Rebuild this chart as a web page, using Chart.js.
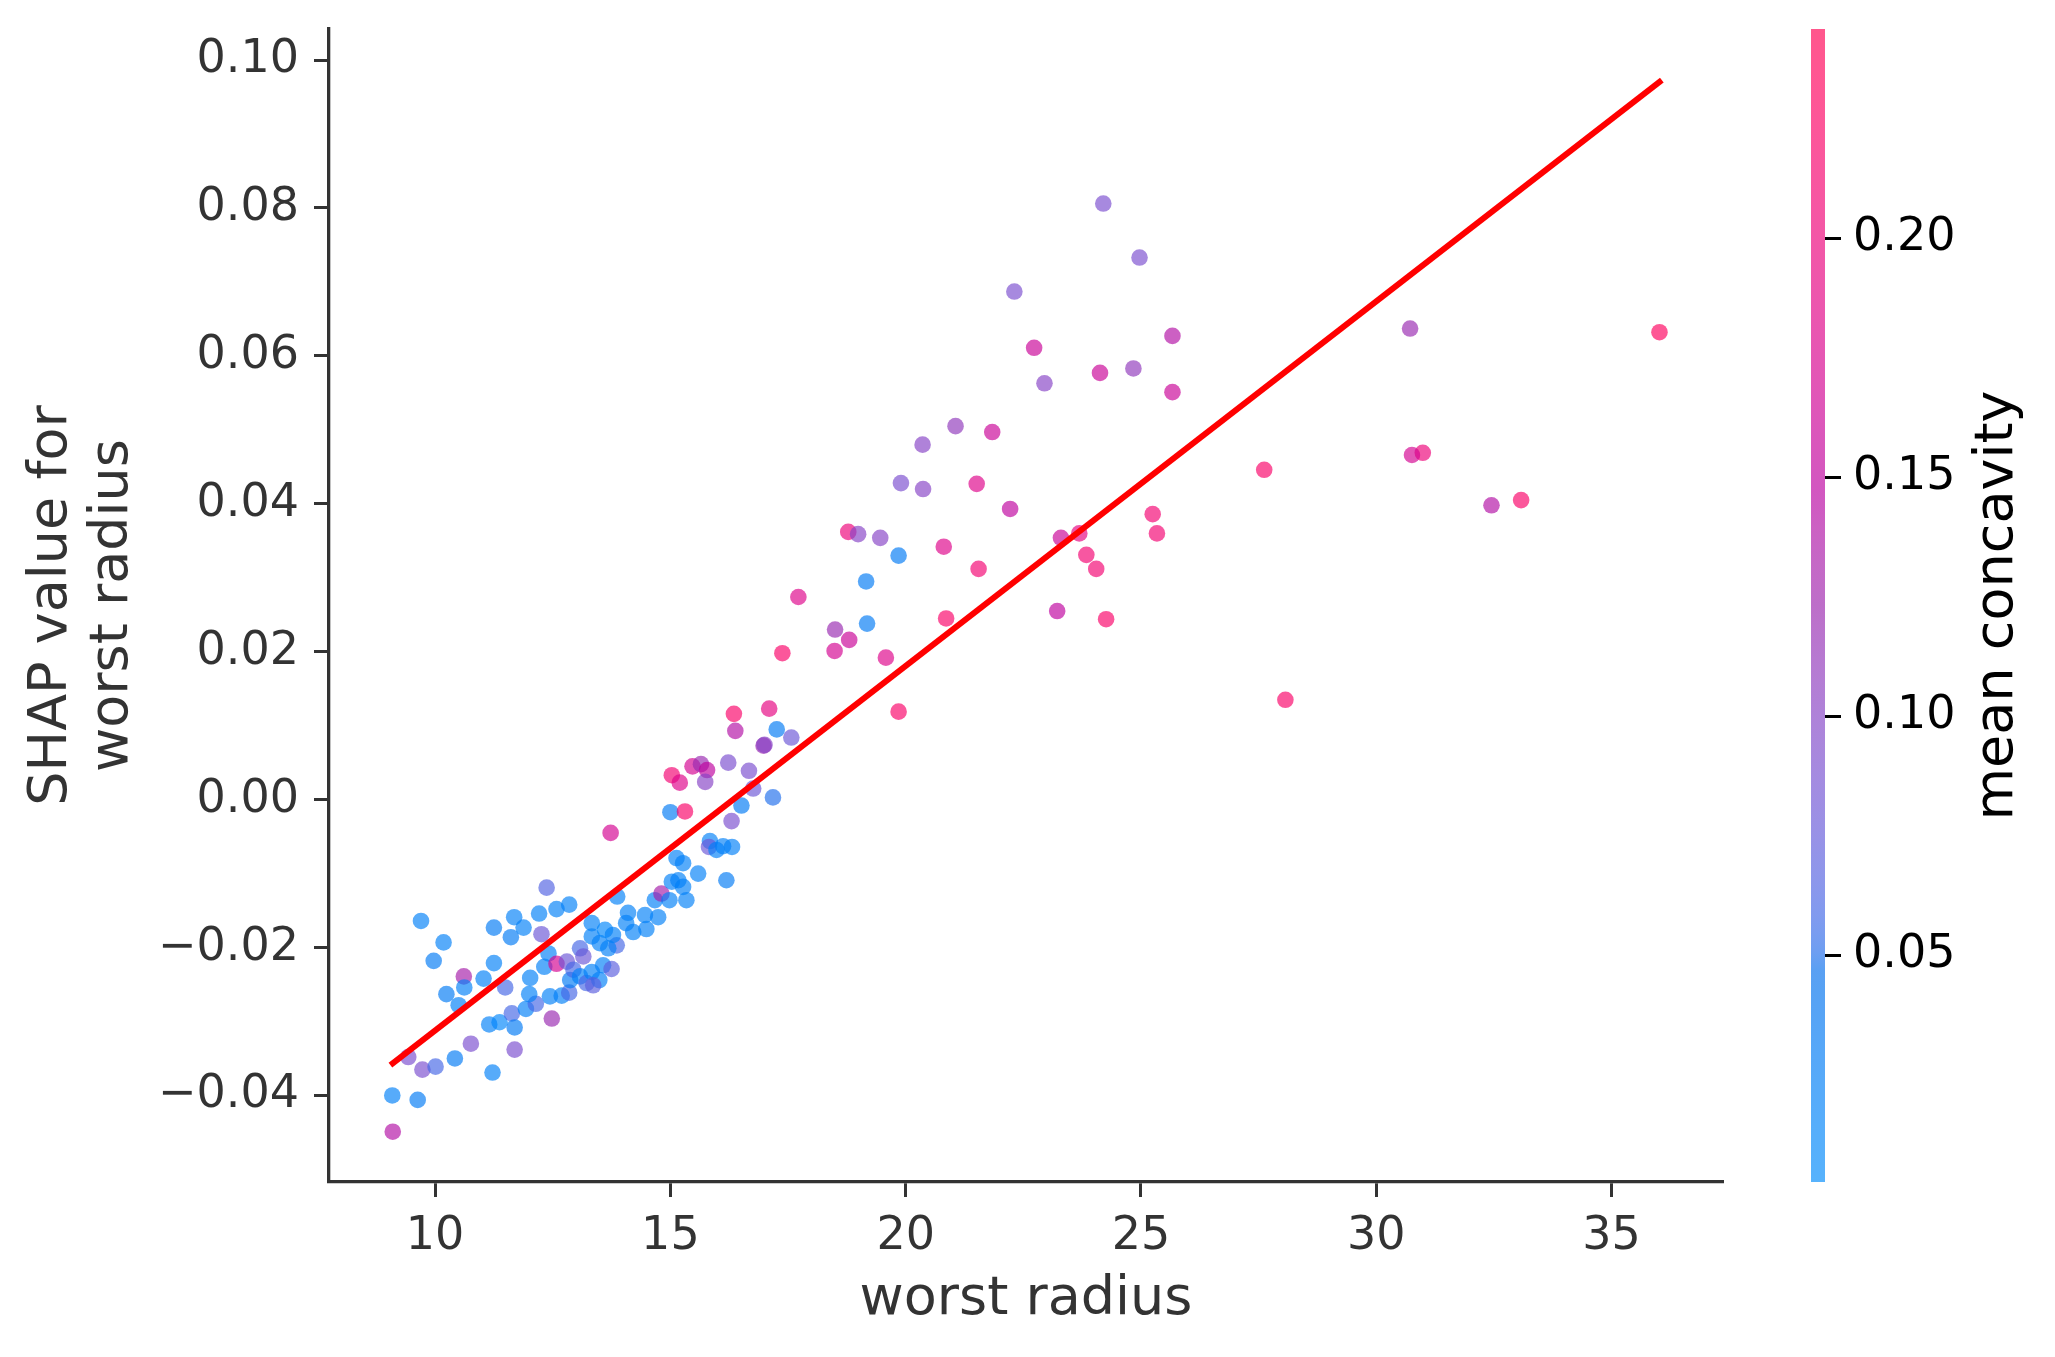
<!DOCTYPE html>
<html><head><meta charset="utf-8">
<script src="https://cdn.jsdelivr.net/npm/chart.js@4/dist/chart.umd.min.js"></script>
<style>
html,body{margin:0;padding:0;background:#fff;}
#wrap{position:relative;width:2055px;height:1357px;background:#fff;}
#wrap canvas{position:absolute;left:0;top:0;}
</style></head><body>
<div id="wrap"><canvas id="main" width="2055" height="1357"></canvas><canvas id="cbar" width="2055" height="1357"></canvas></div>
<script>
// ---- data ----
const WORST_RADIUS = [9.10, 9.09, 9.63, 9.43, 9.73, 10.01, 10.42, 10.76, 11.22, 11.69, 9.70, 10.18, 9.97, 10.24, 10.61, 10.62, 10.50, 11.03, 11.25, 11.25, 11.61, 11.68, 11.88, 12.21, 12.37, 12.58, 12.85, 12.26, 11.49, 11.15, 11.37, 11.63, 11.69, 11.93, 12.14, 12.48, 12.02, 12.00, 12.44, 12.69, 12.85, 12.32, 12.41, 12.58, 12.80, 12.87, 12.94, 13.08, 13.15, 13.08, 13.22, 13.33, 13.49, 13.36, 13.57, 13.75, 13.86, 13.33, 13.33, 13.50, 13.61, 13.68, 13.78, 13.87, 14.06, 14.10, 14.21, 14.46, 14.49, 14.74, 14.67, 14.81, 14.98, 15.03, 15.13, 15.27, 15.27, 15.34, 15.59, 13.73,
 17.38, 18.50, 18.80, 18.49, 19.18, 19.58, 19.85, 20.86, 16.35, 17.10, 16.38, 17.26, 17.57, 16.98, 17.00, 16.23, 16.67, 16.76, 17.18, 16.51, 16.30, 15.47, 15.65, 15.78, 15.74, 15.03, 15.20, 15.00, 15.31, 15.84, 15.82, 15.98, 16.12, 16.31, 16.19, 15.17,
 36.02, 33.08, 32.45, 30.99, 30.76, 30.72, 28.07, 27.62, 24.20, 24.97, 22.31, 25.67, 22.73, 22.95, 24.84, 24.13, 25.67, 21.06, 21.84, 20.36, 19.90, 20.37, 21.51, 22.22, 18.78, 18.99, 19.46, 20.81, 19.16, 19.85, 21.55, 17.72, 25.25, 25.34, 23.69, 23.30, 23.84, 24.05, 23.22, 24.26];
const SHAP_VALUES = [-0.0449, -0.0400, -0.0406, -0.0348, -0.0365, -0.0361, -0.0350, -0.0330, -0.0369, -0.0338, -0.0164, -0.0193, -0.0218, -0.0263, -0.0239, -0.0254, -0.0278, -0.0242, -0.0221, -0.0173, -0.0186, -0.0159, -0.0173, -0.0154, -0.0119, -0.0148, -0.0142, -0.0182, -0.0254, -0.0304, -0.0301, -0.0289, -0.0308, -0.0283, -0.0276, -0.0296, -0.0241, -0.0263, -0.0266, -0.0265, -0.0261, -0.0226, -0.0208, -0.0222, -0.0219, -0.0244, -0.0230, -0.0201, -0.0212, -0.0239, -0.0248, -0.0233, -0.0244, -0.0251, -0.0224, -0.0229, -0.0197, -0.0167, -0.0185, -0.0194, -0.0176, -0.0201, -0.0183, -0.0131, -0.0167, -0.0153, -0.0179, -0.0156, -0.0175, -0.0159, -0.0136, -0.0127, -0.0136, -0.0111, -0.0079, -0.0086, -0.0118, -0.0136, -0.0100, -0.0045,
 0.0198, 0.0230, 0.0216, 0.0201, 0.0238, 0.0192, 0.0119, 0.0245, 0.0116, 0.0123, 0.0093, 0.0095, 0.0084, 0.0073, 0.0074, 0.0050, 0.0039, 0.0015, 0.0003, -0.0008, -0.0029, 0.0045, 0.0048, 0.0040, 0.0024, 0.0033, 0.0023, -0.0017, -0.0016, -0.0056, -0.0064, -0.0068, -0.0063, -0.0064, -0.0109, -0.0109,
 0.0632, 0.0405, 0.0398, 0.0469, 0.0466, 0.0637, 0.0135, 0.0446, 0.0806, 0.0733, 0.0687, 0.0627, 0.0611, 0.0563, 0.0583, 0.0577, 0.0551, 0.0505, 0.0497, 0.0480, 0.0428, 0.0420, 0.0427, 0.0393, 0.0362, 0.0359, 0.0354, 0.0342, 0.0295, 0.0330, 0.0312, 0.0274, 0.0386, 0.0360, 0.0360, 0.0354, 0.0331, 0.0312, 0.0255, 0.0244];
const MEAN_CONCAVITY = [0.14, 0.02, 0.03, 0.09, 0.09, 0.06, 0.03, 0.09, 0.02, 0.09, 0.02, 0.02, 0.03, 0.03, 0.13, 0.02, 0.02, 0.02, 0.02, 0.03, 0.03, 0.02, 0.02, 0.02, 0.065, 0.02, 0.02, 0.08, 0.06, 0.02, 0.01, 0.06, 0.03, 0.02, 0.06, 0.12, 0.02, 0.02, 0.02, 0.02, 0.06, 0.02, 0.02, 0.17, 0.08, 0.03, 0.06, 0.06, 0.08, 0.02, 0.06, 0.02, 0.02, 0.07, 0.02, 0.07, 0.06, 0.02, 0.02, 0.02, 0.01, 0.02, 0.02, 0.02, 0.02, 0.02, 0.02, 0.02, 0.02, 0.02, 0.02, 0.13, 0.02, 0.02, 0.02, 0.02, 0.02, 0.02, 0.02, 0.17,
 0.22, 0.12, 0.16, 0.17, 0.03, 0.18, 0.22, 0.22, 0.22, 0.19, 0.14, 0.03, 0.08, 0.12, 0.10, 0.09, 0.09, 0.08, 0.05, 0.03, 0.09, 0.17, 0.12, 0.15, 0.10, 0.21, 0.18, 0.03, 0.22, 0.02, 0.08, 0.02, 0.02, 0.02, 0.03, 0.02,
 0.23, 0.22, 0.14, 0.20, 0.17, 0.12, 0.22, 0.22, 0.09, 0.09, 0.09, 0.14, 0.16, 0.10, 0.11, 0.16, 0.16, 0.11, 0.16, 0.10, 0.09, 0.10, 0.18, 0.15, 0.20, 0.10, 0.10, 0.18, 0.03, 0.03, 0.21, 0.18, 0.21, 0.21, 0.19, 0.16, 0.21, 0.21, 0.15, 0.22];
const FIT_X = [9.05, 36.07];
const FIT_Y = [-0.0359, 0.0973];
const X_TICKS = [10, 15, 20, 25, 30, 35];
const Y_TICKS = [-0.04, -0.02, 0.00, 0.02, 0.04, 0.06, 0.08, 0.10];
const CBAR_TICKS = [0.05, 0.10, 0.15, 0.20];
const CBAR_RANGE = [0.0025, 0.2438];
const X_RANGE = [7.745, 37.37];
const Y_RANGE = [-0.0517, 0.1042];
const LABELS = {x: 'worst radius', y: ['SHAP value for', 'worst radius'], c: 'mean concavity'};

// ---- SHAP red_blue colormap (LCh interpolation) ----
function lch2rgb(L, C, H) {
  const a = C * Math.cos(H), b = C * Math.sin(H);
  const fy = (L + 16) / 116, fx = fy + a / 500, fz = fy - b / 200;
  const finv = f => f > 0.2068966 ? f * f * f : (f - 16 / 116) / 7.787;
  const X = 0.95047 * finv(fx), Y = finv(fy), Z = 1.08883 * finv(fz);
  const lin = [
    3.24048134 * X - 1.53715152 * Y - 0.49853633 * Z,
    -0.96925495 * X + 1.87599 * Y + 0.04155593 * Z,
    0.05564664 * X - 0.20404134 * Y + 1.05731107 * Z];
  return lin.map(v => {
    v = v > 0.0031308 ? 1.055 * Math.pow(v, 1 / 2.4) - 0.055 : 12.92 * v;
    return Math.min(1, Math.max(0, v));
  });
}
const CMAP = (() => {
  const n = 100, out = [];
  const h0 = 4.6588, h1 = 0.35470565 + 2 * Math.PI;
  for (let i = 0; i < n; i++) {
    const L = i < 50 ? 54 - 14 * i / 49 : 40 + 14 * (i - 50) / 49;
    const C = 70 + 20 * i / 99;
    const H = h0 + (h1 - h0) * i / 99;
    out.push(lch2rgb(L, C, H));
  }
  return out;
})();
function cmapRGB(t) {
  t = Math.min(1, Math.max(0, t));
  const p = t * 99, i = Math.min(98, Math.floor(p)), f = p - i;
  return CMAP[i].map((v, k) => v + (CMAP[i + 1][k] - v) * f);
}
const ALPHA = 0.66;
function colorFor(c, alpha) {
  const t = (c - CBAR_RANGE[0]) / (CBAR_RANGE[1] - CBAR_RANGE[0]);
  const [r, g, b] = cmapRGB(t);
  return `rgba(${Math.round(r * 255)},${Math.round(g * 255)},${Math.round(b * 255)},${alpha})`;
}

const FONT = "'DejaVu Sans', sans-serif";
const AX = '#333333';
const fmtSigned = v => { const r = Math.round(v * 100) / 100; return (r < 0 ? '\u2212' : '') + Math.abs(r).toFixed(2); };
const noPadV = s => { s.paddingTop = 0; s.paddingBottom = 0; };
const noPadH = s => { s.paddingLeft = 0; s.paddingRight = 0; };

// ---- main scatter chart ----
new Chart(document.getElementById('main'), {
  type: 'scatter',
  data: {
    datasets: [
      {type: 'line', data: FIT_X.map((x, i) => ({x, y: FIT_Y[i]})), borderColor: '#ff0000', borderWidth: 6, pointRadius: 0, fill: false, order: 0},
      {type: 'scatter', data: WORST_RADIUS.map((x, i) => ({x, y: SHAP_VALUES[i]})),
       backgroundColor: MEAN_CONCAVITY.map(c => colorFor(c, ALPHA)), borderWidth: 0, pointRadius: 8.3, order: 1}
    ]
  },
  options: {
    responsive: false, devicePixelRatio: 1, animation: false,
    layout: {padding: {left: 0, top: 29, right: 332, bottom: 0}},
    plugins: {legend: {display: false}, tooltip: {enabled: false}},
    scales: {
      x: {
        type: 'linear', min: X_RANGE[0], max: X_RANGE[1],
        afterBuildTicks: s => { s.ticks = X_TICKS.map(v => ({value: v})); },
        afterFit: s => { s.height = 175; noPadH(s); },
        grid: {drawOnChartArea: false, drawTicks: true, tickLength: 15, tickWidth: 3, tickColor: AX},
        border: {display: true, color: AX, width: 3.3},
        ticks: {color: AX, font: {family: FONT, size: 46}, padding: 12, maxRotation: 0, autoSkip: false, callback: v => String(v)},
        title: {display: true, text: LABELS.x, color: AX, font: {family: FONT, size: 54, lineHeight: 1.2}, padding: {top: 0, bottom: 25}}
      },
      y: {
        type: 'linear', min: Y_RANGE[0], max: Y_RANGE[1],
        afterBuildTicks: s => { s.ticks = Y_TICKS.map(v => ({value: v})); },
        afterFit: s => { s.width = 329; noPadV(s); },
        grid: {drawOnChartArea: false, drawTicks: true, tickLength: 15, tickWidth: 3, tickColor: AX},
        border: {display: true, color: AX, width: 3.3},
        ticks: {color: AX, font: {family: FONT, size: 46}, padding: 15, autoSkip: false, callback: v => fmtSigned(v)},
        title: {display: true, text: LABELS.y, color: AX, font: {family: FONT, size: 54, lineHeight: 1.13}, padding: {top: 21, bottom: 0}}
      }
    }
  }
});

// ---- colorbar chart ----
const gradientPlugin = {
  id: 'cbarGradient',
  beforeDatasetsDraw(chart) {
    const {ctx, chartArea} = chart;
    const sc = chart.scales.y;
    const yb = sc.getPixelForValue(CBAR_RANGE[0]), yt = sc.getPixelForValue(CBAR_RANGE[1]);
    const g = ctx.createLinearGradient(0, yb, 0, yt);
    for (let i = 0; i <= 60; i++) {
      const v = CBAR_RANGE[0] + (CBAR_RANGE[1] - CBAR_RANGE[0]) * i / 60;
      g.addColorStop(i / 60, colorFor(v, ALPHA));
    }
    ctx.save();
    ctx.fillStyle = g;
    ctx.fillRect(chartArea.left, yt, chartArea.right - chartArea.left, yb - yt);
    ctx.restore();
  }
};
const cbarLabelPlugin = {
  id: 'cbarLabel',
  afterDraw(chart) {
    const {ctx, chartArea} = chart;
    ctx.save();
    ctx.translate(1998, (chartArea.top + chartArea.bottom) / 2);
    ctx.rotate(-Math.PI / 2);
    ctx.font = `54px ${FONT}`;
    ctx.fillStyle = '#000000';
    ctx.textAlign = 'center';
    ctx.textBaseline = 'middle';
    ctx.fillText(LABELS.c, 0, 0);
    ctx.restore();
  }
};
new Chart(document.getElementById('cbar'), {
  type: 'scatter',
  data: {datasets: [{data: [], pointRadius: 0}]},
  options: {
    responsive: false, devicePixelRatio: 1, animation: false,
    layout: {padding: {left: 1811, top: 29, right: 0, bottom: 175}},
    plugins: {legend: {display: false}, tooltip: {enabled: false}},
    scales: {
      x: {display: false, type: 'linear', min: 0, max: 1},
      y: {
        type: 'linear', position: 'right', min: CBAR_RANGE[0], max: CBAR_RANGE[1],
        afterBuildTicks: s => { s.ticks = CBAR_TICKS.map(v => ({value: v})); },
        afterFit: s => { s.width = 2055 - 1825; noPadV(s); },
        grid: {drawOnChartArea: false, drawTicks: true, tickLength: 16, tickWidth: 3, tickColor: '#000000'},
        border: {display: false},
        ticks: {color: '#000000', font: {family: FONT, size: 46}, padding: 12, autoSkip: false, callback: v => v.toFixed(2)}
      }
    }
  },
  plugins: [gradientPlugin, cbarLabelPlugin]
});
</script>
</body></html>
